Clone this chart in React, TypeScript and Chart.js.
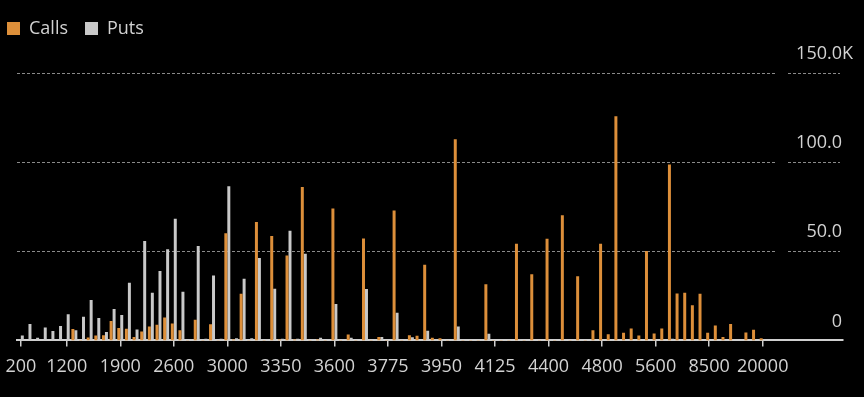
import React, { useEffect, useRef } from 'react';
import { Chart, registerables } from 'chart.js';

Chart.register(...registerables);

const STRIKES = [
  '200', '400', '600', '800', '1000', '1100', '1200',
  '1300', '1400', '1500', '1600', '1700', '1800', '1900',
  '2000', '2100', '2200', '2300', '2400', '2500', '2600',
  '2700', '2750', '2800', '2850', '2900', '2950', '3000',
  '3050', '3100', '3150', '3200', '3250', '3300', '3350',
  '3400', '3450', '3500', '3525', '3550', '3575', '3600',
  '3625', '3650', '3675', '3700', '3725', '3750', '3775',
  '3800', '3825', '3850', '3875', '3900', '3925', '3950',
  '3975', '4000', '4025', '4050', '4075', '4100', '4125',
  '4150', '4175', '4200', '4250', '4300', '4350', '4400',
  '4450', '4500', '4550', '4600', '4650', '4700', '4800',
  '4900', '5000', '5200', '5300', '5400', '5500', '5600',
  '5800', '6000', '6500', '7000', '7500', '8000', '8500',
  '9000', '10000', '11000', '12000', '14000', '16000', '20000',
];

// thousands of contracts
const CALLS = [
  0, 0, 0, 0, 0, 0, 0,
  6.5, 0.3, 1.7, 2.8, 3.0, 10.9, 7.0,
  6.6, 2.0, 5.0, 7.8, 8.8, 12.9, 9.5,
  5.7, 0.3, 11.6, 0.3, 9.1, 0.3, 60.2,
  0.5, 26.2, 0.3, 66.5, 0.3, 58.6, 0.5,
  47.6, 0.5, 86.1, 0.3, 0.5, 0.3, 74.0,
  0.3, 3.3, 0.3, 57.2, 0.3, 2.0, 0.3,
  72.9, 0.3, 3.0, 2.6, 42.5, 1.5, 1.2,
  0.3, 112.9, 0.3, 0.3, 0.3, 31.6, 0.3,
  0.3, 0.3, 54.3, 0.3, 37.1, 0.3, 57.1,
  0.3, 70.2, 0.3, 36.0, 0.3, 5.8, 54.3,
  3.5, 125.8, 4.3, 6.7, 2.8, 50.2, 3.9,
  6.7, 98.7, 26.4, 26.8, 19.7, 26.2, 4.3,
  8.4, 2.0, 9.2, 0, 4.5, 6.0, 1.3,
];

const PUTS = [
  2.8, 9.2, 1.5, 7.3, 5.3, 8.1, 14.7,
  5.8, 13.3, 22.7, 12.6, 4.8, 17.7, 14.3,
  32.4, 6.2, 55.8, 26.8, 38.9, 51.1, 68.2,
  27.3, 0.5, 53.0, 1.0, 36.4, 1.0, 86.5,
  1.2, 34.6, 1.2, 46.3, 0.5, 29.0, 1.0,
  61.6, 1.0, 48.7, 0.5, 1.5, 0.5, 20.5,
  0.5, 1.5, 0.3, 28.8, 0.3, 2.0, 0.3,
  15.6, 0.3, 1.8, 0.3, 5.4, 0.5, 0.3,
  0.3, 7.8, 0.3, 0.3, 0.3, 3.8, 0.3,
  0.3, 0.3, 0.5, 0.3, 0.3, 0.3, 0.3,
  0.3, 0.3, 0.3, 0.3, 0.3, 0.3, 0.3,
  0.3, 0.5, 0.3, 0.3, 0.3, 0.3, 0.3,
  0.3, 1.0, 0.3, 0.3, 0.3, 0.3, 0.3,
  0.3, 0.3, 0, 0, 0, 0, 0,
];

const TICK_LABELS = ['200', '1200', '1900', '2600', '3000', '3350', '3600', '3775', '3950', '4125', '4400', '4800', '5600', '8500', '20000'];
const Y_TICKS = [0, 50, 100, 150];
const Y_TICK_LABELS = ['0', '50.0', '100.0', '150.0K'];

const SERIES_NAMES = ['Calls', 'Puts'];
const ORANGE = '#dd8f3a';
const GREY = '#c9c9c9';
const TEXT = '#d2d2d2';
const FONT = '"Open Sans", "Noto Sans", sans-serif';
const EMPTY_TRAILING_SLOTS = 10;

export default function App() {
  const ref = useRef<HTMLCanvasElement>(null);

  useEffect(() => {
    document.body.style.margin = '0';
    document.body.style.background = '#000';
    if (!ref.current) return;

    const labels = [...STRIKES, ...Array(EMPTY_TRAILING_SLOTS).fill('')];

    const gridPlugin = {
      id: 'bbgGrid',
      beforeDatasetsDraw(chart: any) {
        const { ctx, chartArea, scales } = chart;
        const y = scales.y;
        ctx.save();
        ctx.strokeStyle = '#8a8a8a';
        ctx.lineWidth = 1;
        ctx.setLineDash([3, 2]);
        Y_TICKS.forEach((v) => {
          if (v === 0) return;
          const py = Math.round(y.getPixelForValue(v)) + 0.5;
          ctx.beginPath();
          ctx.moveTo(chartArea.left, py);
          ctx.lineTo(777, py);
          ctx.moveTo(788, py);
          ctx.lineTo(840, py);
          ctx.stroke();
        });
        ctx.setLineDash([]);
        ctx.font = `18px ${FONT}`;
        ctx.fillStyle = TEXT;
        ctx.textBaseline = 'middle';
        Y_TICKS.forEach((v, i) => {
          const py = y.getPixelForValue(v) - 19;
          let t = Y_TICK_LABELS[i];
          let suffix = '';
          if (t.endsWith('K')) {
            suffix = 'K';
            t = t.slice(0, -1);
          }
          ctx.textAlign = 'right';
          ctx.fillText(t, 842, py);
          if (suffix) {
            ctx.textAlign = 'left';
            ctx.fillText(suffix, 842, py);
          }
        });
        ctx.restore();
      },
    };

    const legendSpace = {
      id: 'legendSpace',
      beforeInit(chart: any) {
        const lg = chart.legend;
        if (!lg) return;
        const fit = lg.fit;
        lg.fit = function () {
          fit.call(this);
          this.height = 70.5;
        };
      },
    };

    const chart = new Chart(ref.current, {
      type: 'bar',
      data: {
        labels,
        datasets: [
          {
            label: SERIES_NAMES[0],
            data: CALLS,
            backgroundColor: ORANGE,
            borderWidth: 0,
            categoryPercentage: 0.78,
            barPercentage: 1,
          },
          {
            label: SERIES_NAMES[1],
            data: PUTS,
            backgroundColor: GREY,
            borderWidth: 0,
            categoryPercentage: 0.78,
            barPercentage: 1,
          },
        ],
      },
      options: {
        responsive: true,
        maintainAspectRatio: false,
        animation: false,
        layout: { padding: { left: -10, top: 2.5, right: 21, bottom: 10.5 } },
        plugins: {
          legend: {
            display: true,
            position: 'top',
            align: 'start',
            labels: {
              boxWidth: 13,
              boxHeight: 13,
              padding: 17,
              color: TEXT,
              font: { family: FONT, size: 18 },
            },
          },
          tooltip: { enabled: false },
        },
        scales: {
          x: {
            type: 'category',
            offset: true,
            grid: {
              display: true,
              drawOnChartArea: false,
              drawTicks: true,
              tickLength: 6,
              offset: false,
              lineWidth: 1.5,
              color: (c: any) =>
                TICK_LABELS.includes(labels[c.index]) ? '#cfcfcf' : 'rgba(0,0,0,0)',
            },
            border: { display: true, color: '#cfcfcf', width: 2 },
            ticks: {
              autoSkip: false,
              maxRotation: 0,
              minRotation: 0,
              padding: 3,
              color: TEXT,
              font: { family: FONT, size: 18, lineHeight: 1.89 },
              callback: (_v: any, i: number) =>
                TICK_LABELS.includes(labels[i]) ? labels[i] : '',
            },
          },
          y: {
            min: 0,
            max: 150,
            display: true,
            position: 'left',
            grid: { display: false },
            border: { display: false },
            ticks: { display: false },
            afterFit: (s: any) => {
              s.width = 27;
            },
          },
        },
      },
      plugins: [gridPlugin, legendSpace],
    } as any);

    return () => chart.destroy();
  }, []);

  return (
    <div style={{ width: 864, height: 397, background: '#000', position: 'relative' }}>
      <canvas ref={ref} />
    </div>
  );
}
